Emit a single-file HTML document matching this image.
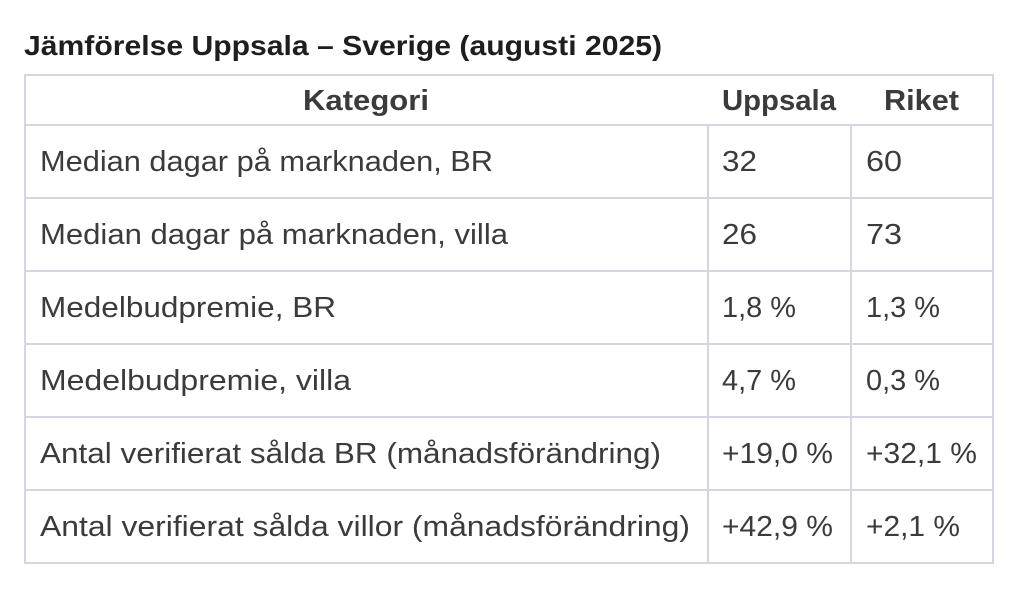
<!DOCTYPE html>
<html><head><meta charset="utf-8"><style>
html,body{margin:0;padding:0;background:#fff;width:1024px;height:592px;overflow:hidden}
svg{display:block}
text{font-family:"Liberation Sans",sans-serif;fill:#3b3b3b;font-size:29px}
.b{font-weight:bold}
</style></head><body>
<svg width="1024" height="592" viewBox="0 0 1024 592">
<text x="24" y="55" class="b" style="fill:#1e1e1e;font-size:28px" textLength="638" lengthAdjust="spacingAndGlyphs">Jämförelse Uppsala – Sverige (augusti 2025)</text>
<g stroke="#d5d5e2" stroke-width="2" fill="none">
<rect x="25" y="75" width="968" height="488"/>
<line x1="25" y1="125" x2="993" y2="125"/>
<line x1="25" y1="198" x2="993" y2="198"/>
<line x1="25" y1="271" x2="993" y2="271"/>
<line x1="25" y1="344" x2="993" y2="344"/>
<line x1="25" y1="417" x2="993" y2="417"/>
<line x1="25" y1="490" x2="993" y2="490"/>
<line x1="708" y1="125" x2="708" y2="563"/>
<line x1="851" y1="125" x2="851" y2="563"/>
</g>
<text x="303" y="110" class="b" textLength="126" lengthAdjust="spacingAndGlyphs">Kategori</text>
<text x="722" y="110" class="b" textLength="114" lengthAdjust="spacingAndGlyphs">Uppsala</text>
<text x="884" y="110" class="b" textLength="75" lengthAdjust="spacingAndGlyphs">Riket</text>

<text x="40" y="171" textLength="453" lengthAdjust="spacingAndGlyphs">Median dagar på marknaden, BR</text>
<text x="722" y="171" textLength="35" lengthAdjust="spacingAndGlyphs">32</text>
<text x="866" y="171" textLength="36" lengthAdjust="spacingAndGlyphs">60</text>

<text x="40" y="244" textLength="468" lengthAdjust="spacingAndGlyphs">Median dagar på marknaden, villa</text>
<text x="722" y="244" textLength="35" lengthAdjust="spacingAndGlyphs">26</text>
<text x="866" y="244" textLength="36" lengthAdjust="spacingAndGlyphs">73</text>

<text x="40" y="317" textLength="296" lengthAdjust="spacingAndGlyphs">Medelbudpremie, BR</text>
<text x="722" y="317" textLength="74" lengthAdjust="spacingAndGlyphs">1,8 %</text>
<text x="866" y="317" textLength="74" lengthAdjust="spacingAndGlyphs">1,3 %</text>

<text x="40" y="390" textLength="311" lengthAdjust="spacingAndGlyphs">Medelbudpremie, villa</text>
<text x="722" y="390" textLength="74" lengthAdjust="spacingAndGlyphs">4,7 %</text>
<text x="866" y="390" textLength="74" lengthAdjust="spacingAndGlyphs">0,3 %</text>

<text x="40" y="463" textLength="621" lengthAdjust="spacingAndGlyphs">Antal verifierat sålda BR (månadsförändring)</text>
<text x="722" y="463" textLength="111" lengthAdjust="spacingAndGlyphs">+19,0 %</text>
<text x="866" y="463" textLength="111" lengthAdjust="spacingAndGlyphs">+32,1 %</text>

<text x="40" y="536" textLength="650" lengthAdjust="spacingAndGlyphs">Antal verifierat sålda villor (månadsförändring)</text>
<text x="722" y="536" textLength="111" lengthAdjust="spacingAndGlyphs">+42,9 %</text>
<text x="866" y="536" textLength="94" lengthAdjust="spacingAndGlyphs">+2,1 %</text>
</svg>
</body></html>
